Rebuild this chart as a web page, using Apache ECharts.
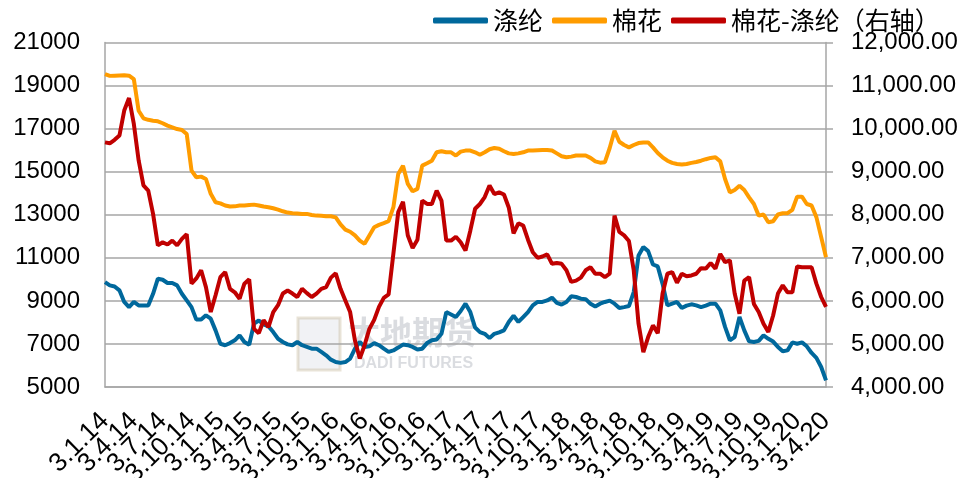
<!DOCTYPE html>
<html>
<head>
<meta charset="utf-8">
<script src="https://cdn.jsdelivr.net/npm/echarts@6/dist/echarts.min.js"></script>
<style>
  html, body { margin: 0; padding: 0; background: #fff; }
  #chart { width: 959px; height: 478px; }
</style>
</head>
<body>
<div id="chart"></div>
<script>
// points on the 3rd and 18th of each month, labels every quarter (d.m.yy)
const years = [14, 15, 16, 17, 18, 19, 20];
const dates = [];
years.forEach(function (yy) {
  for (let m = 1; m <= 12; m++) {
    if (yy === 20 && m > 4) break;
    dates.push('3.' + m + '.' + yy);
    if (yy === 20 && m === 4) break;
    dates.push('18.' + m + '.' + yy);
  }
});

// 涤纶 (left axis)
const polyester = [
  9870, 9720, 9670, 9490, 8950, 8710, 8950, 8790, 8790, 8790,
  9330, 10030, 9980, 9830, 9830, 9720, 9330, 9020, 8710, 8130,
  8130, 8330, 8170, 7630, 7010, 6940, 7040, 7170, 7400, 7090,
  6960, 7940, 8090, 7910, 7820, 7550, 7240, 7090, 6980, 6940,
  7090, 6940, 6860, 6780, 6780, 6630, 6470, 6270, 6160, 6120,
  6160, 6320, 6780, 7090, 6860, 6890, 7040, 6940, 6780, 6630,
  6700, 6830, 6970, 6940, 6860, 6740, 6780, 7040, 7170, 7210,
  7470, 8480, 8370, 8250, 8530, 8870, 8480, 7760, 7550, 7470,
  7270, 7470, 7540, 7630, 8020, 8310, 8020, 8250, 8480, 8790,
  8950, 8950, 9020, 9150, 8910, 8830, 8950, 9210, 9180, 9100,
  9080, 8870, 8740, 8870, 8950, 9010, 8870, 8670, 8710, 8760,
  9410, 11110, 11500, 11310, 10690, 10600, 9790, 8790, 8870, 8950,
  8670, 8780, 8840, 8790, 8710, 8780, 8870, 8870, 8560, 7790,
  7170, 7320, 8250, 7630, 7120, 7090, 7140, 7400, 7240, 7110,
  6860, 6660, 6700, 7070, 7010, 7070, 6890, 6580, 6350, 5930,
  5310
];

// 棉花 (left axis)
const cotton = [
  19530, 19450, 19460, 19470, 19480, 19460, 19300, 17830, 17480, 17410,
  17370, 17340, 17250, 17140, 17060, 16980, 16940, 16750, 15050, 14740,
  14770, 14660, 13970, 13580, 13530, 13430, 13380, 13390, 13430, 13430,
  13450, 13470, 13430, 13380, 13350, 13300, 13240, 13160, 13100, 13070,
  13060, 13040, 13040, 12990, 12960, 12950, 12930, 12930, 12880, 12550,
  12310, 12210, 12040, 11800, 11650, 12040, 12420, 12530, 12610, 12700,
  13350, 14890, 15280, 14430, 14090, 14200, 15280, 15390, 15510, 15900,
  15950, 15900, 15900, 15750, 15930, 15980, 15980, 15900, 15790, 15900,
  16040, 16100, 16070, 15950, 15850, 15820, 15850, 15900, 15980, 15980,
  16000, 16010, 16010, 15980, 15850, 15720, 15670, 15700, 15750, 15750,
  15750, 15640, 15480, 15420, 15440, 16100, 16900, 16390, 16240, 16130,
  16240, 16330, 16360, 16360, 16130, 15870, 15670, 15510, 15410, 15360,
  15330, 15360, 15410, 15450, 15510, 15580, 15640, 15670, 15480, 14660,
  14040, 14150, 14350, 14150, 13810, 13500, 12960, 13010, 12650, 12700,
  13010, 13070, 13070, 13230, 13840, 13840, 13500, 13430, 12890, 11960,
  11030
];

// 棉花-涤纶 (right axis)
const spread = [
  9680, 9660, 9740, 9840, 10420, 10710, 10110, 9260, 8680, 8560,
  8020, 7290, 7360, 7310, 7400, 7290, 7440, 7550, 6400, 6520,
  6710, 6320, 5740, 6130, 6550, 6670, 6280, 6200, 6050, 6400,
  6500, 5350, 5250, 5550, 5390, 5740, 5900, 6170, 6240, 6170,
  6090, 6280, 6180, 6090, 6170, 6280, 6320, 6540, 6640, 6280,
  6010, 5740, 5080, 4660, 4970, 5350, 5560, 5860, 6070, 6150,
  7100, 8060, 8300, 7520, 7230, 7420, 8330, 8250, 8250, 8560,
  8330, 7400, 7400, 7490, 7360, 7170, 7630, 8140, 8250, 8410,
  8680, 8480, 8520, 8470, 8170, 7570, 7800, 7750, 7420, 7130,
  7000, 7030, 7080, 6860, 6880, 6860, 6710, 6440, 6470, 6540,
  6710, 6780, 6630, 6630, 6550, 6630, 7980, 7600, 7520, 7390,
  6710, 5470, 4810, 5160, 5430, 5250, 6170, 6630, 6670, 6420,
  6630, 6570, 6590, 6630, 6760, 6750, 6880, 6750, 7090, 6900,
  6940, 6170, 5700, 6470, 6550, 5930, 5740, 5470, 5280, 5660,
  6170, 6360, 6200, 6200, 6800, 6780, 6780, 6780, 6400, 6090,
  5860
];

const seriesNames = ['涤纶', '棉花', '棉花-涤纶（右轴）'];
const colors = ['#00689C', '#FF9C00', '#C00000'];

const chart = echarts.init(document.getElementById('chart'), null, { renderer: 'canvas' });
const gridColor = '#A6A6A6';
const axisFont = 'Liberation Sans';

const option = {
  animation: false,
  backgroundColor: '#fff',
  color: colors,
  legend: {
    left: 428,
    top: 3,
    itemWidth: 55,
    itemHeight: 6,
    itemGap: 9,
    icon: 'roundRect',
    textStyle: { fontSize: 25, fontFamily: 'Noto Sans CJK SC', color: '#000' },
    data: seriesNames
  },
  grid: { left: 105, right: 133, top: 42.5, bottom: 91, outerBoundsMode: 'none', containLabel: false },
  graphic: [
    {
      type: 'rect', z: 0, silent: true,
      shape: { x: 298, y: 318, width: 42, height: 52 },
      style: { fill: 'rgba(200,205,215,0.25)', stroke: 'rgba(190,175,140,0.35)', lineWidth: 3 }
    },
    {
      type: 'text', z: 0, silent: true, left: 348, top: 316,
      style: { text: '大地期货', font: 'bold 32px "Noto Sans CJK SC"', fill: 'rgba(150,155,165,0.35)' }
    },
    {
      type: 'text', z: 0, silent: true, left: 354, top: 356,
      style: { text: 'DADI FUTURES', font: 'bold 16px "Liberation Sans"', fill: 'rgba(150,155,165,0.35)' }
    }
  ],
  xAxis: {
    type: 'category',
    boundaryGap: false,
    data: dates,
    axisLine: { lineStyle: { color: gridColor, width: 1.5 } },
    axisTick: { show: false },
    axisLabel: {
      interval: 0,
      formatter: function (value, index) { return index % 6 === 0 ? value : ''; },
      hideOverlap: false,
      rotate: 45,
      margin: 30,
      fontSize: 26,
      fontFamily: axisFont,
      color: '#000'
    },
    splitLine: { show: false }
  },
  yAxis: [
    {
      type: 'value',
      min: 5000,
      max: 21000,
      interval: 2000,
      axisLine: { show: true, lineStyle: { color: gridColor, width: 1.5 } },
      axisTick: { show: false },
      axisLabel: {
        fontSize: 24, fontFamily: axisFont, color: '#000', margin: 25,
        formatter: function (v) { return String(v); }
      },
      splitLine: { lineStyle: { color: gridColor, width: 1.5 } }
    },
    {
      type: 'value',
      position: 'right',
      min: 4000,
      max: 12000,
      interval: 1000,
      axisLine: { show: true, lineStyle: { color: gridColor, width: 1.5 } },
      axisTick: { show: true, length: 7, lineStyle: { color: gridColor, width: 1.5 } },
      axisLabel: {
        fontSize: 24, fontFamily: axisFont, color: '#000', margin: 25,
        formatter: function (v) {
          return v.toLocaleString('en-US', { minimumFractionDigits: 2, maximumFractionDigits: 2 });
        }
      },
      splitLine: { show: false }
    }
  ],
  series: [
    {
      name: seriesNames[0], type: 'line', yAxisIndex: 0, data: polyester,
      symbol: 'none', lineStyle: { width: 4, color: colors[0] }
    },
    {
      name: seriesNames[1], type: 'line', yAxisIndex: 0, data: cotton,
      symbol: 'none', lineStyle: { width: 4, color: colors[1] }
    },
    {
      name: seriesNames[2], type: 'line', yAxisIndex: 1, data: spread,
      symbol: 'none', lineStyle: { width: 4, color: colors[2] }
    }
  ]
};

chart.setOption(option);
</script>
</body>
</html>
